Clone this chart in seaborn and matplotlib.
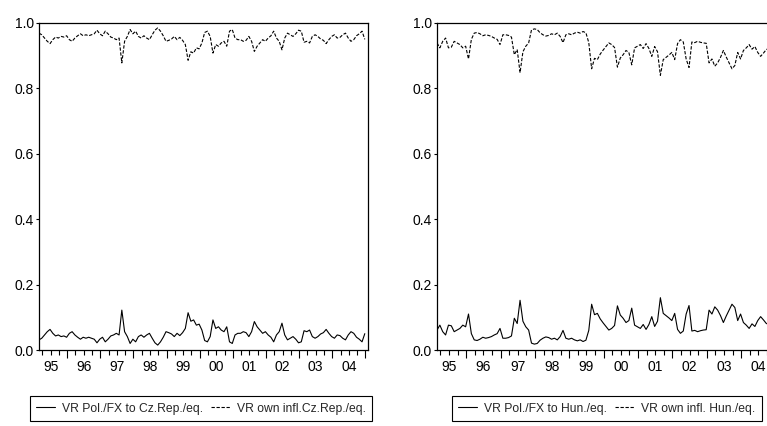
import numpy as np
import matplotlib
matplotlib.use("Agg")
import matplotlib.pyplot as plt
from matplotlib.ticker import FixedLocator, FuncFormatter
import seaborn as sns

# monthly observations, decimal years
start_year = 1995.15
n_obs = 119

cz_pol = [0.031, 0.036, 0.046, 0.056, 0.063, 0.051, 0.043, 0.046, 0.041, 0.043,
          0.039, 0.051, 0.056, 0.046, 0.039, 0.033, 0.039, 0.036, 0.039, 0.036,
          0.033, 0.022, 0.033, 0.039, 0.025, 0.033, 0.043, 0.046, 0.051, 0.046,
          0.122, 0.056, 0.041, 0.020, 0.033, 0.025, 0.041, 0.046, 0.039, 0.046,
          0.051, 0.036, 0.022, 0.015, 0.025, 0.039, 0.056, 0.053, 0.049, 0.041,
          0.051, 0.044, 0.053, 0.066, 0.114, 0.088, 0.092, 0.076, 0.079, 0.061,
          0.029, 0.025, 0.041, 0.092, 0.066, 0.071, 0.061, 0.056, 0.071, 0.025,
          0.020, 0.046, 0.051, 0.051, 0.056, 0.053, 0.041, 0.056, 0.087, 0.071,
          0.061, 0.051, 0.056, 0.046, 0.039, 0.025, 0.046, 0.056, 0.082, 0.046,
          0.031, 0.036, 0.041, 0.033, 0.022, 0.025, 0.059, 0.056, 0.061, 0.041,
          0.036, 0.041, 0.049, 0.053, 0.063, 0.051, 0.041, 0.036, 0.046, 0.044,
          0.036, 0.031, 0.046, 0.056, 0.051, 0.039, 0.033, 0.025, 0.050]

cz_own = [0.969, 0.964, 0.954, 0.944, 0.937, 0.949, 0.957, 0.954, 0.959, 0.957,
          0.961, 0.949, 0.944, 0.954, 0.961, 0.967, 0.961, 0.964, 0.961, 0.964,
          0.967, 0.978, 0.967, 0.961, 0.975, 0.967, 0.957, 0.954, 0.949, 0.954,
          0.878, 0.944, 0.959, 0.980, 0.967, 0.975, 0.959, 0.954, 0.961, 0.954,
          0.949, 0.964, 0.978, 0.985, 0.975, 0.961, 0.944, 0.947, 0.951, 0.959,
          0.949, 0.956, 0.947, 0.934, 0.886, 0.912, 0.908, 0.924, 0.921, 0.939,
          0.971, 0.975, 0.959, 0.908, 0.934, 0.929, 0.939, 0.944, 0.929, 0.975,
          0.980, 0.954, 0.949, 0.949, 0.944, 0.947, 0.959, 0.944, 0.913, 0.929,
          0.939, 0.949, 0.944, 0.954, 0.961, 0.975, 0.954, 0.944, 0.918, 0.954,
          0.969, 0.964, 0.959, 0.967, 0.978, 0.975, 0.941, 0.944, 0.939, 0.959,
          0.964, 0.959, 0.951, 0.947, 0.937, 0.949, 0.959, 0.964, 0.954, 0.956,
          0.964, 0.969, 0.954, 0.944, 0.949, 0.961, 0.967, 0.975, 0.950]

hu_pol = [0.061, 0.076, 0.056, 0.046, 0.076, 0.074, 0.056, 0.061, 0.066, 0.076,
          0.071, 0.110, 0.050, 0.031, 0.029, 0.033, 0.039, 0.036, 0.038, 0.041,
          0.046, 0.050, 0.066, 0.036, 0.036, 0.038, 0.043, 0.097, 0.081, 0.152,
          0.088, 0.071, 0.061, 0.021, 0.018, 0.020, 0.030, 0.036, 0.040, 0.038,
          0.033, 0.036, 0.031, 0.041, 0.060, 0.036, 0.033, 0.036, 0.031, 0.028,
          0.031, 0.026, 0.030, 0.060, 0.140, 0.108, 0.112, 0.095, 0.083, 0.072,
          0.061, 0.066, 0.075, 0.135, 0.107, 0.097, 0.084, 0.090, 0.128, 0.076,
          0.071, 0.066, 0.078, 0.063, 0.078, 0.102, 0.072, 0.088, 0.160, 0.112,
          0.105, 0.098, 0.090, 0.112, 0.063, 0.051, 0.058, 0.110, 0.136, 0.058,
          0.060, 0.056, 0.059, 0.061, 0.062, 0.122, 0.110, 0.132, 0.122, 0.105,
          0.084, 0.104, 0.122, 0.140, 0.130, 0.090, 0.110, 0.084, 0.076, 0.066,
          0.080, 0.072, 0.090, 0.102, 0.092, 0.081, 0.078, 0.075, 0.074]

hu_own = [0.939, 0.924, 0.944, 0.954, 0.924, 0.926, 0.944, 0.939, 0.934, 0.924,
          0.929, 0.890, 0.950, 0.969, 0.971, 0.967, 0.961, 0.964, 0.962, 0.959,
          0.954, 0.950, 0.934, 0.964, 0.964, 0.962, 0.957, 0.903, 0.919, 0.848,
          0.912, 0.929, 0.939, 0.979, 0.982, 0.980, 0.970, 0.964, 0.960, 0.962,
          0.967, 0.964, 0.969, 0.959, 0.940, 0.964, 0.967, 0.964, 0.969, 0.972,
          0.969, 0.974, 0.970, 0.940, 0.860, 0.892, 0.888, 0.905, 0.917, 0.928,
          0.939, 0.934, 0.925, 0.865, 0.893, 0.903, 0.916, 0.910, 0.872, 0.924,
          0.929, 0.934, 0.922, 0.937, 0.922, 0.898, 0.928, 0.912, 0.840, 0.888,
          0.895, 0.902, 0.910, 0.888, 0.937, 0.949, 0.942, 0.890, 0.864, 0.942,
          0.940, 0.944, 0.941, 0.939, 0.938, 0.878, 0.890, 0.868, 0.878, 0.895,
          0.916, 0.896, 0.878, 0.860, 0.870, 0.910, 0.890, 0.916, 0.924, 0.934,
          0.920, 0.928, 0.910, 0.898, 0.908, 0.919, 0.922, 0.925, 0.926]

years = np.arange(1995, 2006)
y_ticks = [0.0, 0.2, 0.4, 0.6, 0.8, 1.0]

panels = [
    (cz_pol, cz_own, 'VR Pol./FX to Cz.Rep./eq.', 'VR own infl.Cz.Rep./eq.',
     [39 / 767, 76 / 426, 329 / 767, 327 / 426], (1995.15, 2005.08), 0.262),
    (hu_pol, hu_own, 'VR Pol./FX to Hun./eq.', 'VR own infl. Hun./eq.',
     [437 / 767, 76 / 426, 338.5 / 767, 327 / 426], (1995.15, 2005.0), 0.791),
]

sns.set_theme(style='ticks')
plt.rcParams['font.family'] = ['Liberation Sans', 'DejaVu Sans']

fig = plt.figure(figsize=(7.67, 4.26), dpi=100)
t = start_year + np.arange(n_obs) / 12

for pol, own, lab_pol, lab_own, rect, xlim, leg_x in panels:
    ax = fig.add_axes(rect)
    sns.lineplot(x=t, y=pol, ax=ax, color='black', lw=0.8, label=lab_pol, legend=False)
    sns.lineplot(x=t, y=own, ax=ax, color='black', lw=0.8, label=lab_own, legend=False,
                 linestyle=(0, (3, 1.5)))
    ax.set_xlim(*xlim)
    ax.set_ylim(0, 1)

    for s in ax.spines.values():
        s.set_color('black')
        s.set_linewidth(0.9)

    ax.set_yticks(y_ticks)
    ax.set_yticklabels([f'{v:.1f}' for v in y_ticks])
    ax.tick_params(axis='y', length=2.5, width=0.8, pad=1, labelsize=10, colors='black')

    ax.xaxis.set_major_locator(FixedLocator(years[1:]))
    ax.xaxis.set_major_formatter(FuncFormatter(lambda v, p: ''))
    quarters = [y + q for y in years[:-1] for q in (0.25, 0.5, 0.75)]
    ax.xaxis.set_minor_locator(FixedLocator(quarters))
    ax.xaxis.set_minor_formatter(FuncFormatter(
        lambda v, p: f'{int(v) % 100:02d}' if abs(v - int(v) - 0.5) < 0.01 else ''))
    ax.tick_params(axis='x', which='major', length=6, width=0.8, colors='black')
    ax.tick_params(axis='x', which='minor', length=3.5, width=0.8, pad=4,
                   labelsize=10, colors='black')

    handles, labels = ax.get_legend_handles_labels()
    leg = fig.legend(handles, labels, loc='center', bbox_to_anchor=(leg_x, 0.041),
                     ncol=2, fontsize=8.7, frameon=True, fancybox=False,
                     edgecolor='black', framealpha=1, handlelength=1.6,
                     columnspacing=0.7, handletextpad=0.55, borderpad=0.5)
    leg.get_frame().set_linewidth(0.8)

fig.savefig('out.png', dpi=100)
